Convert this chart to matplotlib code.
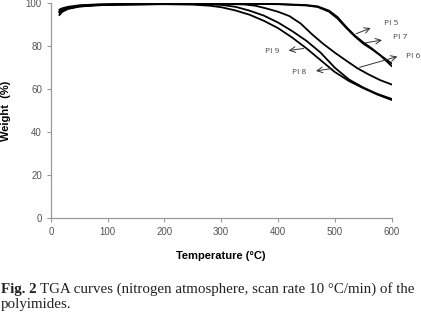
import numpy as np
from matplotlib import pyplot as plt

# TGA data (temperature in C, weight in %)
t9 = [15, 20, 30, 50, 80, 120, 200, 250, 280, 300, 325, 350, 375, 400, 425, 450, 475, 500, 525, 550, 575, 600]
w9 = [94.5, 96, 97.3, 98.4, 99, 99.3, 99.5, 99.3, 98.8, 98.1, 96.6, 94.6, 91.8, 88.4, 84, 79, 73.5, 68, 63.8, 60.5, 57.5, 55]
t8 = [15, 20, 30, 50, 80, 120, 200, 250, 300, 325, 350, 375, 400, 425, 450, 475, 500, 525, 550, 575, 600]
w8 = [96, 96.8, 97.8, 98.8, 99.2, 99.4, 99.6, 99.6, 99.2, 98.3, 96.5, 94.2, 91, 87, 82.5, 77, 70, 64.5, 60.8, 57.8, 55.5]
t6 = [15, 20, 30, 50, 80, 120, 200, 300, 340, 360, 380, 400, 420, 440, 460, 480, 500, 520, 540, 560, 580, 600]
w6 = [95.5, 96.5, 97.5, 98.5, 99, 99.3, 99.6, 99.7, 99.4, 98.8, 97.5, 96, 94, 90.5, 85.5, 81, 77, 73.3, 69.7, 66.8, 64.2, 62.2]
t5 = [15, 20, 30, 50, 80, 120, 200, 300, 400, 450, 470, 490, 505, 520, 535, 550, 565, 580, 600]
w5 = [97, 97.6, 98.3, 99, 99.4, 99.6, 99.8, 99.9, 99.6, 99.1, 98.5, 96.5, 93.5, 89, 85, 81.8, 79, 75.8, 70.8]
t7 = [15, 20, 30, 50, 80, 120, 200, 300, 400, 450, 470, 490, 505, 520, 535, 550, 565, 580, 600]
w7 = [96.2, 97, 97.9, 98.7, 99.2, 99.5, 99.7, 99.8, 99.5, 98.9, 98.2, 96, 92.8, 88.5, 84.6, 81.2, 78.6, 75.8, 72]

labels = ['PI 5', 'PI 7', 'PI 6', 'PI 9', 'PI 8']
arrow_tail = [(533, 85.3), (550, 81.4), (539, 69.8), (450, 79.1), (500, 69.8)]
arrow_head = [(568, 88.9), (588, 83.0), (615, 75.5), (414, 77.8), (462, 68.3)]
label_pos = [(587, 90.4), (603, 84.0), (625, 75.0), (389, 77.6), (437, 67.8)]

fig = plt.figure(figsize=(4.21, 3.14), dpi=100)
ax = fig.add_axes([0.121, 0.305, 0.809, 0.685])

for t, w in [(t9, w9), (t8, w8), (t6, w6), (t5, w5), (t7, w7)]:
    ax.plot(t, w, color='black', lw=1.3)

for lab, tail, head, pos in zip(labels, arrow_tail, arrow_head, label_pos):
    ax.annotate('', xy=head, xytext=tail,
                arrowprops=dict(arrowstyle='->', color='#333333', lw=0.7),
                annotation_clip=False)
    ha = 'center' if lab in ('PI 9', 'PI 8') else 'left'
    ax.text(pos[0], pos[1], lab, fontsize=6, color='#444444', ha=ha, va='center',
            family='Open Sans', clip_on=False)

ax.set_xlim(0, 600)
ax.set_ylim(0, 100)
ax.set_xticks(range(0, 601, 100))
ax.set_yticks(range(0, 101, 20))
for s in ['top', 'right']:
    ax.spines[s].set_visible(False)
for s in ['left', 'bottom']:
    ax.spines[s].set_color('#999999')
    ax.spines[s].set_linewidth(0.9)
ax.tick_params(colors='#999999', labelcolor='#555555', labelsize=7, length=3, width=0.8)
for lbl in ax.get_xticklabels() + ax.get_yticklabels():
    lbl.set_family('Liberation Sans')

ax.set_xlabel('Temperature (°C)', fontsize=8, fontweight='bold', family='Liberation Sans', labelpad=10)
ax.set_ylabel('Weight  (%)', fontsize=8, fontweight='bold', family='Liberation Sans')
ax.yaxis.set_label_coords(-0.118, 0.5)

# caption: bold "Fig. 2" followed by regular text
fig.canvas.draw()
r = fig.canvas.get_renderer()
fig_w = fig.bbox.width
t1 = fig.text(0.002, 0.068, 'Fig. 2', fontsize=10.8, family='Liberation Serif',
              fontweight='bold', va='baseline', color='#222222')
bb = t1.get_window_extent(renderer=r)
x2 = bb.x1 / fig_w + 0.009
fig.text(x2, 0.068, 'TGA curves (nitrogen atmosphere, scan rate 10 °C/min) of the',
         fontsize=10.8, family='Liberation Serif', va='baseline', color='#222222')
fig.text(0.002, 0.02, 'polyimides.', fontsize=10.8, family='Liberation Serif', va='baseline',
         color='#222222')

plt.savefig('out.png', dpi=100)
